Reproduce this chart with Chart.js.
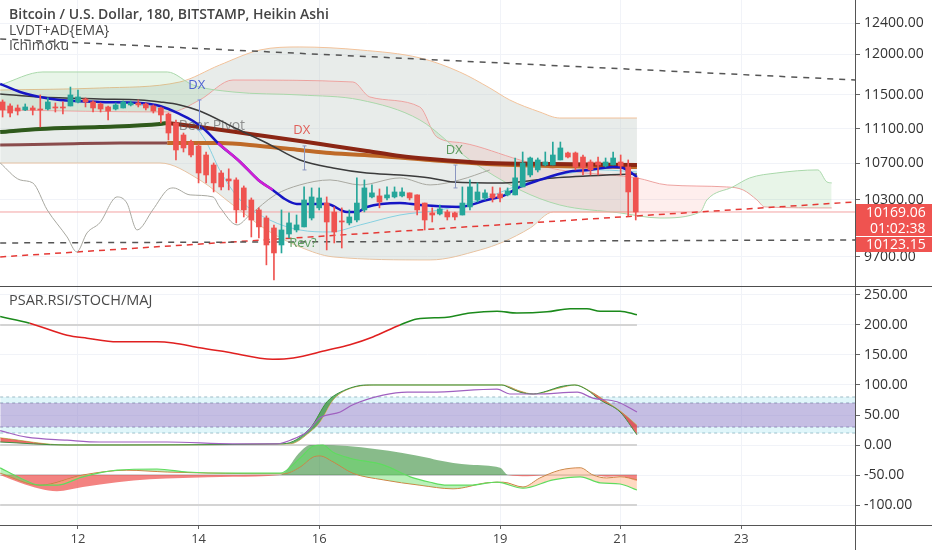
<!DOCTYPE html>
<html>
<head>
<meta charset="utf-8">
<script src="https://cdn.jsdelivr.net/npm/chart.js@4.4.0/dist/chart.umd.min.js"></script>
<style>
  html, body { margin: 0; padding: 0; background: #fff; }
  #wrap { position: relative; width: 932px; height: 550px; overflow: hidden; font-family: "Open Sans", sans-serif; }
  #top { position: absolute; left: 0; top: 0; width: 932px; height: 286px; }
  #sep { position: absolute; left: 0; top: 286px; width: 932px; height: 1px; background: #4d4d4d; }
  #bot { position: absolute; left: 0; top: 287px; width: 932px; height: 263px; }
  .lbl { position: absolute; left: 9px; color: #4a4a4a; font-size: 14px; line-height: 16px; white-space: nowrap; }
</style>
</head>
<body>
<div id="wrap">
  <canvas id="top" width="932" height="286"></canvas>
  <div id="sep"></div>
  <canvas id="bot" width="932" height="263"></canvas>
  <div class="lbl" style="top:6px;font-weight:600;color:#444">Bitcoin / U.S. Dollar, 180, BITSTAMP, Heikin Ashi</div>
  <div class="lbl" style="top:22px">LVDT+AD{EMA}</div>
  <div class="lbl" style="top:37px">Ichimoku</div>
  <div class="lbl" style="top:292px;font-size:14.5px">PSAR.RSI/STOCH/MAJ</div>
</div>
<script>
// colours
const UP = '#26a69a'
const DOWN = '#ef5350'

// axes
const X_MIN = 10.707
const X_MAX = 24.886
const dayTicks = [12, 14, 16, 19, 21, 23]
const priceTicks = [9700, 10300, 10700, 11100, 11500, 12000, 12400]
const oscTicks = [-100, -50, 0, 50, 100, 150, 200, 250]

// heikin ashi candles, 3h each, first one at sep 10 18:00
const firstCandle = 10.75
const candleStep = 0.125
const haOpen = [11414,11366,11342,11318,11342,11330,11330,11354,11354,11366,
  11414,11450,11414,11390,11354,11330,11342,11378,11402,11390,
  11366,11342,11270,11165,11025,10944,10899,10796,10683,10594,
  10528,10517,10429,10298,10191,10105,10000,9823,9937,9979,
  10011,10105,10213,10265,10169,10074,10053,10084,10191,10331,
  10342,10320,10331,10342,10375,10353,10265,10159,10148,10169,
  10159,10137,10223,10298,10320,10364,10364,10353,10353,10440,
  10572,10628,10683,10683,10740,10819,10819,10773,10717,10717,
  10672,10683,10717,10661,10540]
const haHigh = [11438,11390,11378,11390,11366,11498,11462,11402,11414,11594,
  11558,11462,11426,11402,11366,11402,11426,11426,11438,11402,
  11378,11354,11282,11200,11048,10967,10922,10830,10706,10620,
  10640,10540,10451,10320,10213,10127,10030,10191,10159,10137,
  10440,10429,10429,10331,10223,10213,10191,10540,10517,10462,
  10418,10440,10440,10429,10375,10353,10265,10213,10244,10191,
  10169,10440,10517,10484,10407,10440,10429,10429,10762,10830,
  10773,10762,10830,10944,10944,10830,10830,10796,10740,10773,
  10762,10830,10796,10740,10540]
const haLow = [11235,11235,11259,11310,11259,11118,11318,11294,11270,11366,
  11402,11354,11294,11294,11200,11318,11342,11366,11354,11318,
  11282,11165,10967,10740,10830,10773,10484,10484,10385,10407,
  10407,10053,10116,9906,9896,9620,9469,9741,9896,9958,
  10011,10084,10191,9772,9844,9792,10032,10063,10170,10320,
  10213,10298,10320,10331,10298,10137,9979,10063,10137,10084,
  10084,10137,10191,10276,10298,10276,10276,10342,10353,10440,
  10550,10605,10672,10683,10740,10762,10628,10572,10572,10572,
  10661,10683,10572,10127,10084]
const haClose = [11318,11282,11306,11354,11318,11318,11414,11342,11342,11498,
  11474,11414,11342,11330,11306,11378,11414,11402,11378,11342,
  11306,11259,11048,10853,10876,10796,10594,10572,10484,10440,
  10506,10191,10191,10084,10011,9823,9741,9979,10053,10032,
  10298,10331,10320,10063,9958,10063,10116,10265,10429,10375,
  10276,10353,10385,10385,10320,10191,10084,10137,10202,10116,
  10116,10265,10440,10385,10375,10320,10320,10396,10540,10706,
  10762,10740,10717,10796,10876,10773,10661,10650,10628,10683,
  10717,10762,10672,10385,10169]
const candleDays = haOpen.map((_, i) => firstCandle + i * candleStep)

// LVDT moving averages
const emaDays = [10.71,11.04,11.37,11.70,12.36,13.03,13.36,13.69,13.91,14.11,14.32,14.69,14.99,15.23,15.43,15.63,16.13,16.46,16.63,16.79,17.34,17.67,18.33,18.78,19.05,19.33,19.66,20.11,20.49,20.87,21.04,21.27]
const emaFast = [11632,11534,11474,11438,11414,11402,11366,11270,11188,11083,10933,10717,10517,10407,10309,10255,10255,10169,10169,10223,10266,10244,10223,10298,10342,10440,10517,10605,10628,10661,10650,10550]
const magDays = [14.32, 14.69, 14.99, 15.23]
const emaMagenta = [10933, 10717, 10517, 10407]
const darkDays = [10.71,11.37,12.36,13.03,13.36,13.69,14.02,14.57,15.13,15.68,16.23,16.79,17.34,17.84,18.22,19.05,19.88,20.77,21.27]
const darkMa = [11510,11474,11450,11438,11414,11378,11306,11118,10933,10740,10650,10594,10572,10539,10495,10484,10539,10572,10583]
const greenDays = [10.71, 11.37, 12.36, 13.36, 13.48]
const greenMa = [11060, 11095, 11118, 11153, 11165]
const redDays = [13.48,14.02,14.85,15.68,16.23,16.79,17.34,17.84,18.78,19.88,21.27]
const redMa = [11165,11118,11037,10956,10899,10842,10785,10751,10706,10695,10683]
const maroonDays = [10.71, 11.70, 12.70, 13.48]
const maroonMa = [10910, 10921, 10933, 10933]
const orangeDays = [13.48,14.35,15.02,15.68,16.18,17.01,17.84,18.78,19.88,21.27]
const orangeMa = [10933,10933,10899,10853,10819,10785,10740,10695,10672,10661]

// bands
const bbUpDays = [10.71,12.36,13.69,14.35,15.02,15.68,16.68,17.67,18.33,18.83,19.16,19.66,19.99,21.27]
const bbUpper = [11558,11582,11656,11865,12054,12092,12054,11954,11779,11582,11438,11294,11223,11223]
const bbLowDays = [10.71,13.36,14.02,14.57,15.13,15.68,16.23,17.84,18.67,19.05,19.50,19.88,21.27]
const bbLower = [10706,10706,10517,10244,9979,9803,9701,9670,9772,9854,10000,10169,10169]

// ichimoku
const spanADays = [10.71,11.42,13.48,13.91,14.57,15.68,16.68,17.67,18.50,19.33,19.99,20.99,21.65,22.32,22.43,22.86,23.14,23.59,24.27,24.42,24.50]
const spanA = [11619,11779,11779,11619,11534,11498,11438,11200,10740,10407,10244,10159,10105,10169,10298,10440,10539,10594,10628,10495,10484]
const spanBDays = [10.71,13.53,14.02,14.57,16.56,16.84,17.67,17.95,18.38,19.33,19.99,20.82,21.27,21.77,22.76,23.03,23.26,23.39,24.50]
const spanB = [11318,11294,11438,11680,11656,11474,11354,11002,10933,10740,10628,10572,10539,10462,10440,10407,10298,10223,10212]
const chikouDays = [10.71,11.04,11.25,11.49,11.82,11.98,12.15,12.36,12.65,12.81,12.98,13.24,13.48,13.58,13.86,14.24,14.35,14.64,14.85,15.27,15.68,16.18,16.68,17.34,17.84,18.33,18.83]
const chikou = [10706,10517,10484,10191,9906,9752,9948,10053,10331,10266,9979,10191,10407,10429,10353,10331,10223,10032,10137,10353,10462,10517,10462,10539,10462,10517,10628]
const baseDays = [13.03,13.81,14.11,14.35,14.69,15.18,15.68,16.18,16.68,17.34,18.00,18.67,19.33,19.99,20.66,21.27]
const baseLine = [11378,11223,10967,10628,10298,10084,9979,9958,10032,10137,10191,10298,10462,10572,10628,10605]

// trend lines
const trendDays = [10.71, 24.89]
const trendHigh = [12194, 11680]
const trendFlat = [9844, 9875]
const trendRise = [9701, 10277]
const lastClose = 10169.06
const lastLabel = '10169.06'
const countdown = '01:02:38'
const prevLabel = '10123.15'

// chart notes
const notes = [
  { text: 'DX', day: 13.97, price: 11619, color: '#4f63d2', size: 13 },
  { text: 'DX', day: 15.71, price: 11083, color: '#e0605a', size: 13 },
  { text: 'DX', day: 18.24, price: 10853, color: '#5f9a5f', size: 13 },
  { text: 'Bear Pivot', day: 14.22, price: 11130, color: 'rgba(80,80,80,0.6)', size: 14 },
  { text: 'Rev?', day: 15.73, price: 9844, color: '#5f9f5f', size: 13 }
]
const markers = [
  { day: 14.01, from: 11438, to: 11083, color: '#7b8fe0' },
  { day: 15.75, from: 10899, to: 10628, color: '#8a96c0' },
  { day: 18.25, from: 10683, to: 10429, color: '#8a96c0' }
]

// oscillator pane
const psarDays = [10.71,11.20,11.82,12.15,12.65,13.31,13.58,14.02,14.47,15.23,15.57,16.13,16.51,16.89,17.34,17.62,18.12,18.50,18.95,19.28,19.78,20.16,20.44,20.66,20.99,21.27]
const psar = [214,203,183,178,172,172,170,162,155,143,145,158,167,180,200,210,213,220,223,220,222,227,227,223,223,217]
const rsiDays = [10.71,11.15,11.82,12.36,13.48,14.57,15.30,15.52,15.80,16.01,16.35,16.56,17.06,17.46,17.84,18.95,19.16,19.61,20.28,20.54,20.94,21.27]
const rsi = [24,13,8,5,5,2,2,8,22,45,55,67,83,88,88,93,85,85,88,78,72,55]
const kDays = [10.71,11.82,15.40,15.85,16.13,16.35,16.79,19.03,19.16,19.33,19.55,19.78,19.99,20.24,20.44,20.66,20.99,21.27]
const stochK = [5,0,2,28,72,88,100,100,95,88,85,90,97,100,92,75,55,17]
const dDays = [10.71,11.82,15.52,15.85,16.01,16.23,16.46,16.96,19.03,19.33,19.55,19.99,20.24,20.54,20.77,21.04,21.27]
const stochD = [12,0,2,22,38,75,92,100,100,90,85,95,100,87,72,53,33]
const majADays = [10.71,11.04,11.37,11.65,12.08,12.65,13.31,13.81,14.57,15.35,15.68,15.90,16.06,16.23,16.51,17.06,17.51,17.84,18.12,18.50,18.95,19.38,19.88,20.33,20.66,20.99,21.27]
const majA = [-38,-55,-67,-67,-53,-42,-40,-45,-47,-47,-22,-2,0,-12,-22,-33,-53,-62,-67,-67,-62,-72,-58,-53,-63,-65,-75]
const majBDays = [10.71,11.37,12.08,12.81,13.48,15.40,15.68,15.90,16.01,16.23,16.56,17.06,17.67,18.22,18.78,19.05,19.38,19.66,19.99,20.33,20.54,20.77,20.99,21.27]
const majB = [-47,-67,-50,-42,-45,-48,-37,-20,-18,-28,-47,-58,-67,-73,-63,-62,-70,-55,-42,-38,-50,-55,-53,-58]
const majHDays = [10.71,11.04,11.37,11.65,12.08,12.65,13.19,13.74,14.57,15.35,15.68,15.85,16.01,17.84,17.95,18.50,19.00,19.13,19.45,19.88,20.54,20.77,20.99,21.27]
const majH = [-50,-63,-73,-77,-70,-62,-57,-55,-53,-50,-12,0,0,-22,-25,-33,-38,-50,-52,-50,-50,-53,-52,-60]
const levelDays = [10.71, 21.27]
const bandDays = [10.71, 24.89]
const majMid = -50

const pts = (days, vals) => days.map((d, i) => ({ x: d, y: vals[i] }))

function line(days, vals, color, width, extra) {
  return Object.assign({
    type: 'line', data: pts(days, vals), borderColor: color, borderWidth: width,
    pointRadius: 0, fill: false, cubicInterpolationMode: 'monotone'
  }, extra || {})
}

const candleColor = c => haClose[c.dataIndex] >= haOpen[c.dataIndex] ? UP : DOWN

// no label padding, chart areas must fill the panes
const fitY = s => { s.width = 77; s.paddingTop = 0; s.paddingBottom = 0 }

// ---------- price pane ----------
const topSets = []
topSets.push({ type: 'bar', data: candleDays.map((d, i) => ({ x: d, y: [haOpen[i], haClose[i]] })),
  backgroundColor: candleColor, barThickness: 5, grouped: false, minBarLength: 1, order: 0 })
topSets.push({ type: 'bar', data: candleDays.map((d, i) => ({ x: d, y: [haLow[i], haHigh[i]] })),
  backgroundColor: candleColor, barThickness: 1, grouped: false, order: 1 })
topSets.push(line(magDays, emaMagenta, '#d21fd2', 2.5, { order: 2 }))
topSets.push(line(emaDays, emaFast, '#1616c4', 2.5, { order: 3 }))
topSets.push(line(darkDays, darkMa, '#3b3b3b', 1.5, { order: 4 }))
topSets.push(line(greenDays, greenMa, '#2f5a1c', 4, { order: 5 }))
topSets.push(line(redDays, redMa, '#8b2614', 4, { order: 5 }))
topSets.push(line(maroonDays, maroonMa, '#8a4c4c', 3, { order: 6 }))
topSets.push(line(orangeDays, orangeMa, '#bf6a28', 4, { order: 6 }))
topSets.push(line(baseDays, baseLine, '#86d0e0', 1, { order: 7 }))
topSets.push(line(chikouDays, chikou, '#a8a8a0', 1, { order: 7 }))
topSets.push(line(trendDays, trendHigh, '#555', 1.5, { borderDash: [6, 6], order: 8, cubicInterpolationMode: 'default' }))
topSets.push(line(trendDays, trendFlat, '#555', 1.5, { borderDash: [6, 6], order: 8, cubicInterpolationMode: 'default' }))
topSets.push(line(trendDays, trendRise, '#e53935', 1.5, { borderDash: [6, 5], order: 8, cubicInterpolationMode: 'default' }))
topSets.push(line([X_MIN, X_MAX], [lastClose, lastClose], '#f3a3a3', 1, { order: 9 }))
const iSpanB = topSets.push(line(spanBDays, spanB, '#f2a6a6', 1, { order: 21 })) - 1
topSets.push(line(spanADays, spanA, '#a9d8aa', 1, { order: 20,
  fill: { target: iSpanB, above: 'rgba(76,175,80,0.13)', below: 'rgba(244,67,54,0.09)' } }))
const iBbLow = topSets.push(line(bbLowDays, bbLower, '#f2c29a', 1, { order: 23 })) - 1
topSets.push(line(bbUpDays, bbUpper, '#f2c29a', 1, { order: 22,
  fill: { target: iBbLow, above: 'rgba(190,200,196,0.35)', below: 'rgba(190,200,196,0.35)' } }))

const topNotes = {
  id: 'topNotes',
  afterDatasetsDraw(chart) {
    const { ctx, scales: { x, y } } = chart
    ctx.save()
    markers.forEach(m => {
      const px = Math.round(x.getPixelForValue(m.day)) + 0.5
      const y1 = y.getPixelForValue(m.from), y2 = y.getPixelForValue(m.to)
      ctx.strokeStyle = m.color
      ctx.lineWidth = 1
      ctx.beginPath()
      ctx.moveTo(px, y1); ctx.lineTo(px, y2)
      ctx.moveTo(px - 2, y1); ctx.lineTo(px + 2, y1)
      ctx.moveTo(px - 2, y2); ctx.lineTo(px + 2, y2)
      ctx.stroke()
    })
    ctx.textAlign = 'center'
    ctx.textBaseline = 'middle'
    notes.forEach(n => {
      ctx.font = n.size + 'px "Open Sans"'
      ctx.fillStyle = n.color
      ctx.fillText(n.text, x.getPixelForValue(n.day), y.getPixelForValue(n.price))
    })
    ctx.restore()
  },
  afterDraw(chart) {
    const { ctx, scales: { y } } = chart
    const left = y.left + 1
    const w = chart.width - left
    const top = Math.round(y.getPixelForValue(lastClose)) - 8
    ctx.save()
    ctx.fillStyle = DOWN
    ctx.fillRect(left, top, w, 17)
    ctx.fillRect(left, top + 17, w, 15)
    ctx.fillRect(left, top + 33, w, 15)
    ctx.fillStyle = '#fff'
    ctx.font = '14px "Open Sans"'
    ctx.textBaseline = 'middle'
    ctx.fillText(lastLabel, left + 10, top + 9)
    ctx.fillText(countdown, left + 14, top + 25)
    ctx.fillText(prevLabel, left + 10, top + 41)
    ctx.restore()
  }
}

new Chart(document.getElementById('top').getContext('2d'), {
  type: 'bar',
  data: { datasets: topSets },
  options: {
    responsive: false, animation: false, events: [],
    layout: { padding: 0 },
    plugins: { legend: { display: false }, tooltip: { enabled: false } },
    scales: {
      x: {
        type: 'linear', min: X_MIN, max: X_MAX, offset: false,
        afterBuildTicks: s => { s.ticks = dayTicks.map(v => ({ value: v })) },
        ticks: { display: false },
        grid: { color: '#f1f3f8', drawTicks: false, offset: false },
        border: { display: false },
        afterFit: s => { s.height = 0; s.paddingLeft = 0; s.paddingRight = 0 }
      },
      y: {
        type: 'logarithmic', position: 'right', min: 9409, max: 12703, beginAtZero: false,
        afterBuildTicks: s => { s.ticks = priceTicks.map(v => ({ value: v })) },
        ticks: { callback: v => Number(v).toFixed(2), color: '#333', font: { size: 14, family: 'Open Sans' }, padding: 4, autoSkip: false },
        grid: { color: '#f1f3f8', tickColor: '#666', tickLength: 5 },
        border: { color: '#555' },
        afterFit: fitY
      }
    }
  },
  plugins: [topNotes]
})

// ---------- oscillator pane ----------
const botSets = []
botSets.push(line(psarDays, psar, '#e02020', 1.6, { order: 0,
  segment: { borderColor: c => (c.p0.parsed.y >= 200 && c.p1.parsed.y >= 200) ? '#1b8a1b' : '#e02020' } }))
botSets.push(line(rsiDays, rsi, '#a061c0', 1.2, { order: 1 }))
const iD = botSets.push(line(dDays, stochD, '#cfc66a', 1, { order: 3 })) - 1
botSets.push(line(kDays, stochK, '#3d9140', 1, { order: 2,
  fill: { target: iD, above: 'rgba(67,160,71,0.8)', below: 'rgba(229,57,53,0.75)' } }))
const iMajB = botSets.push(line(majBDays, majB, '#cd7a3c', 1, { order: 5 })) - 1
botSets.push(line(majADays, majA, '#5fdc5f', 1.2, { order: 4,
  fill: { target: iMajB, above: 'rgba(100,221,100,0.45)', below: 'rgba(255,170,120,0.45)' } }))
botSets.push(line(majHDays, majH, 'rgba(0,0,0,0)', 0, { order: 6,
  fill: { value: majMid, above: 'rgba(56,142,60,0.6)', below: 'rgba(239,83,80,0.72)' } }))
botSets.push(line(levelDays, [majMid, majMid], '#a8a8a8', 1, { order: 7 }))
botSets.push(line(levelDays, [200, 200], '#d4d4d4', 2, { order: 8 }))
botSets.push(line(levelDays, [0, 0], '#d4d4d4', 2, { order: 8 }))
botSets.push(line(levelDays, [-100, -100], '#d4d4d4', 2, { order: 8 }))
const i20 = botSets.push(line(bandDays, [20, 20], '#9fbcc6', 1, { borderDash: [3, 3], order: 12 })) - 1
const i30 = botSets.push(line(bandDays, [30, 30], '#8e90b0', 1, { borderDash: [3, 3], order: 11,
  fill: { target: i20, above: 'rgba(130,220,235,0.25)' } })) - 1
const i70 = botSets.push(line(bandDays, [70, 70], '#8e90b0', 1, { borderDash: [3, 3], order: 10,
  fill: { target: i30, above: 'rgba(140,125,200,0.5)' } })) - 1
botSets.push(line(bandDays, [80, 80], '#9fbcc6', 1, { borderDash: [3, 3], order: 9,
  fill: { target: i70, above: 'rgba(130,220,235,0.25)' } }))

const axisExt = {
  id: 'axisExt',
  afterDraw(chart) {
    const { ctx, chartArea } = chart
    ctx.save()
    ctx.strokeStyle = '#555'
    ctx.lineWidth = 1
    ctx.beginPath()
    ctx.moveTo(chartArea.right, Math.round(chartArea.bottom) + 0.5)
    ctx.lineTo(chart.width, Math.round(chartArea.bottom) + 0.5)
    ctx.moveTo(Math.round(chartArea.right) + 0.5, chartArea.bottom)
    ctx.lineTo(Math.round(chartArea.right) + 0.5, chart.height)
    ctx.stroke()
    ctx.restore()
  }
}

new Chart(document.getElementById('bot').getContext('2d'), {
  type: 'line',
  data: { datasets: botSets },
  options: {
    responsive: false, animation: false, events: [],
    layout: { padding: 0 },
    plugins: { legend: { display: false }, tooltip: { enabled: false } },
    scales: {
      x: {
        type: 'linear', min: X_MIN, max: X_MAX, offset: false,
        afterBuildTicks: s => { s.ticks = dayTicks.map(v => ({ value: v })) },
        ticks: { callback: v => String(v), color: '#444', font: { size: 13, family: 'Open Sans' }, padding: 2, maxRotation: 0, autoSkip: false },
        grid: { color: '#f1f3f8', tickColor: '#666', tickLength: 4 },
        border: { color: '#555' },
        afterFit: s => { s.height = 25; s.paddingLeft = 0; s.paddingRight = 0 }
      },
      y: {
        type: 'linear', position: 'right', min: -133.3, max: 263.3,
        afterBuildTicks: s => { s.ticks = oscTicks.map(v => ({ value: v })) },
        ticks: { callback: v => Number(v).toFixed(2), color: '#333', font: { size: 14, family: 'Open Sans' }, padding: 4, autoSkip: false },
        grid: { color: '#f1f3f8', tickColor: '#666', tickLength: 5 },
        border: { color: '#555' },
        afterFit: fitY
      }
    }
  },
  plugins: [axisExt]
})
</script>
</body>
</html>
